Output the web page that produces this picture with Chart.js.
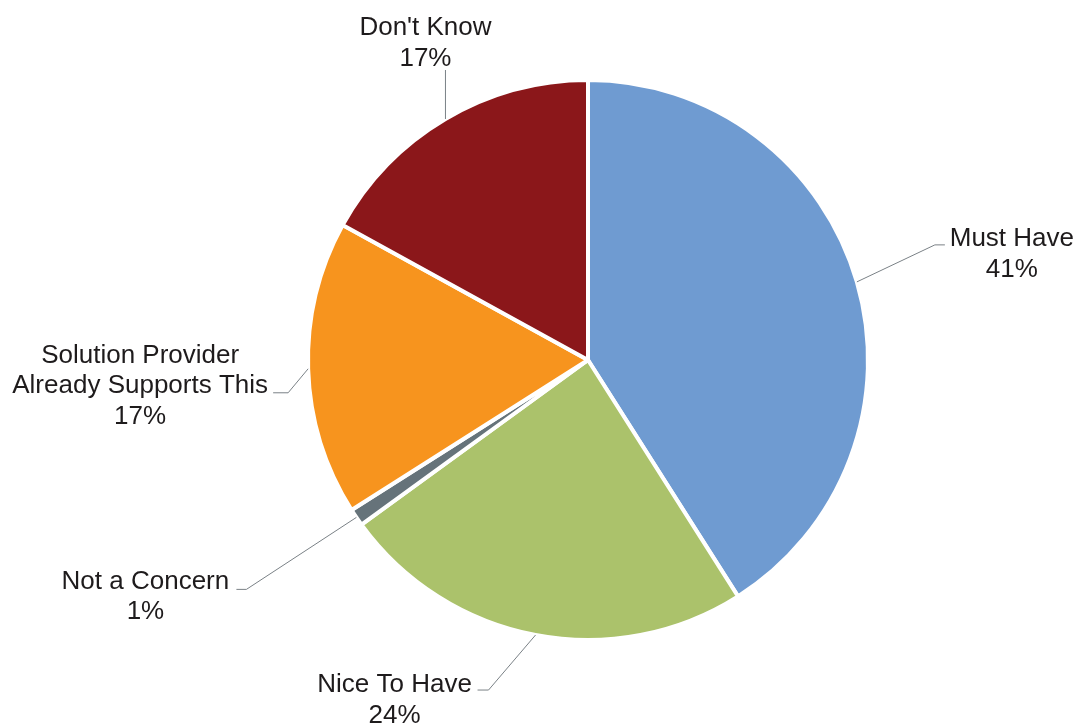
<!DOCTYPE html>
<html>
<head>
<meta charset="utf-8">
<script src="https://cdn.jsdelivr.net/npm/chart.js@4"></script>
<style>
  html, body { margin: 0; padding: 0; background: #fff; }
  #wrap { width: 1078px; height: 725px; position: relative; }
</style>
</head>
<body>
<div id="wrap"><canvas id="pie"></canvas></div>
<script>
const categories = ["Must Have", "Nice To Have", "Not a Concern", "Solution Provider\nAlready Supports This", "Don't Know"]
const shares = [41, 24, 1, 17, 17]
const sliceColors = ["#6F9BD1", "#ABC26B", "#66737A", "#F7941E", "#8B171A"]

// label placement relative to the outer edge point of each slice
// e = elbow of the leader, t = tail end of the leader, c = centre of the first text line
const labelLayout = [
  { e: [78, -37], t: [88, -37], c: [155, -43] },
  { e: [-47, 55], t: [-58, 55], c: [-141, 50] },
  { e: [-110, 72], t: [-120, 72], c: [-211, 64] },
  { e: [-20, 24], t: [-35, 24], c: [-168, -13] },
  { e: [0, -49], t: [0, -49], c: [-20, -91] },
]

const leaderLabels = {
  id: "leaderLabels",
  afterDraw(chart) {
    const ctx = chart.ctx
    const meta = chart.getDatasetMeta(0)
    ctx.save()
    meta.data.forEach((arc, i) => {
      const p = arc.getProps(["x", "y", "startAngle", "endAngle", "outerRadius"], true)
      const mid = (p.startAngle + p.endAngle) / 2
      const ex = p.x + Math.cos(mid) * p.outerRadius
      const ey = p.y + Math.sin(mid) * p.outerRadius
      const lay = labelLayout[i]
      ctx.strokeStyle = "#7A8186"
      ctx.lineWidth = 1
      ctx.beginPath()
      ctx.moveTo(ex, ey)
      ctx.lineTo(ex + lay.e[0], ey + lay.e[1])
      ctx.lineTo(ex + lay.t[0], ey + lay.t[1])
      ctx.stroke()

      const lines = categories[i].split("\n").concat([shares[i] + "%"])
      ctx.fillStyle = "#1E1B1C"
      ctx.font = "26px 'Liberation Sans', Arial, sans-serif"
      ctx.textAlign = "center"
      ctx.textBaseline = "middle"
      lines.forEach((s, k) => {
        ctx.fillText(s, ex + lay.c[0], ey + lay.c[1] + k * 30.5)
      })
    })
    ctx.restore()
  },
}

new Chart(document.getElementById("pie"), {
  type: "pie",
  data: {
    labels: categories,
    datasets: [
      {
        data: shares,
        backgroundColor: sliceColors,
        borderColor: "#FFFFFF",
        borderWidth: 4,
      },
    ],
  },
  options: {
    responsive: true,
    maintainAspectRatio: false,
    animation: false,
    layout: { padding: { top: 78, bottom: 83, left: 306, right: 208 } },
    plugins: {
      legend: { display: false },
      tooltip: { enabled: false },
    },
  },
  plugins: [leaderLabels],
})
</script>
</body>
</html>
